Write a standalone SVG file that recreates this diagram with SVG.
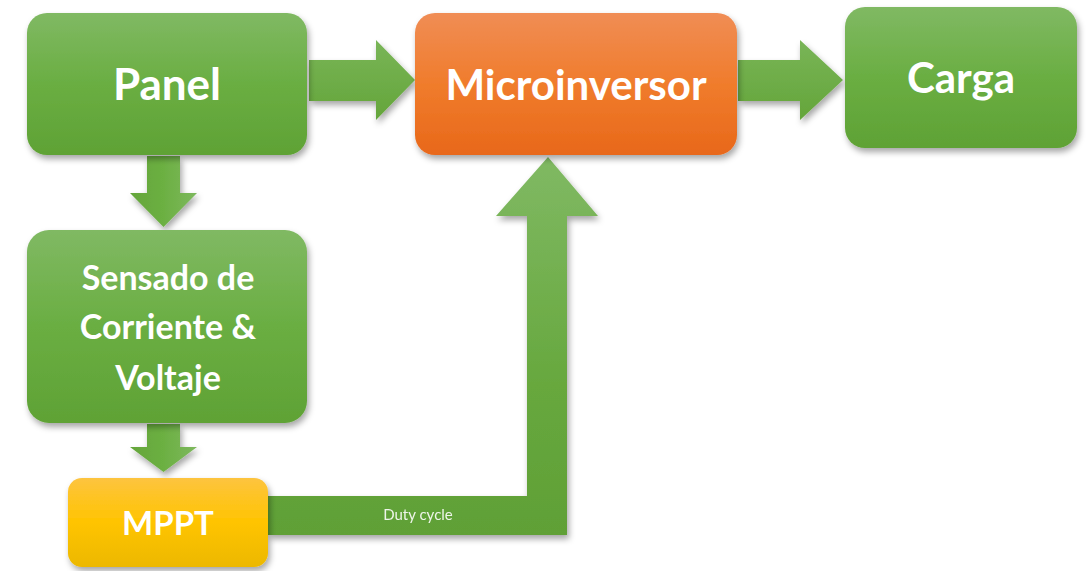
<svg xmlns="http://www.w3.org/2000/svg" width="1089" height="571" viewBox="0 0 1089 571">
<defs>
<linearGradient id="gGreen" x1="0" y1="0" x2="0" y2="1"><stop offset="0" stop-color="#80b963"/><stop offset="0.5" stop-color="#6aae42"/><stop offset="1" stop-color="#5fa235"/></linearGradient>
<linearGradient id="gOrange" x1="0" y1="0" x2="0" y2="1"><stop offset="0" stop-color="#f08d55"/><stop offset="0.5" stop-color="#f07c2c"/><stop offset="1" stop-color="#e8681a"/></linearGradient>
<linearGradient id="gYellow" x1="0" y1="0" x2="0" y2="1"><stop offset="0" stop-color="#fdc43f"/><stop offset="0.5" stop-color="#ffc400"/><stop offset="1" stop-color="#ecb800"/></linearGradient>
<linearGradient id="gArrowH" x1="0" y1="0" x2="0" y2="1"><stop offset="0" stop-color="#79b557"/><stop offset="1" stop-color="#64a53a"/></linearGradient>
<linearGradient id="gArrowV" x1="0" y1="0" x2="1" y2="0"><stop offset="0" stop-color="#64a53a"/><stop offset="0.5" stop-color="#6cb042"/><stop offset="1" stop-color="#7db85e"/></linearGradient>
<linearGradient id="gDuty" x1="0" y1="0" x2="0" y2="1"><stop offset="0" stop-color="#80b963"/><stop offset="0.6" stop-color="#67a83e"/><stop offset="1" stop-color="#60a036"/></linearGradient>
<filter id="sh" x="-10%" y="-10%" width="125%" height="130%"><feDropShadow dx="2" dy="4" stdDeviation="3" flood-color="#000" flood-opacity="0.35"/></filter>
</defs>
<style>
.lbl{font-family:Lato,"Open Sans","Liberation Sans",sans-serif;font-weight:bold;fill:#fff;text-anchor:middle}
.big{font-size:42px}
.mid{font-size:34px}
.small{font-family:Lato,"Open Sans","Liberation Sans",sans-serif;font-size:15px;fill:#eef5ea;text-anchor:middle}
</style>
<g id="connectors" filter="url(#sh)">
<polygon id="panel-micro" fill="url(#gArrowH)" points="309,60 376,60 376,40 415,80 376,120 376,101 309,101"/>
<polygon id="micro-carga" fill="url(#gArrowH)" points="738,60 800,60 800,40 843,80 800,120 800,101 738,101"/>
<polygon id="panel-sensado" fill="url(#gArrowV)" points="147,156 180,156 180,193 197,193 163.5,227 130,193 147,193"/>
<polygon id="sensado-mppt" fill="url(#gArrowV)" points="147,424 180,424 180,447 197,447 163.5,472 130,447 147,447"/>
<g id="mppt-micro">
<polygon fill="url(#gDuty)" points="268,496 527,496 527,216 496,216 548,157 598,216 567,216 567,535 268,535"/>
<text class="small" x="418" y="520">Duty cycle</text>
</g>
</g>
<g id="panel"><rect x="27" y="13" width="280" height="142" rx="20" fill="url(#gGreen)" filter="url(#sh)"/><text class="lbl big" x="167" y="100" style="font-size:44px">Panel</text></g>
<g id="microinversor"><rect x="415" y="13" width="322" height="142" rx="20" fill="url(#gOrange)" filter="url(#sh)"/><text class="lbl big" x="576" y="100">Microinversor</text></g>
<g id="carga"><rect x="845" y="7" width="232" height="141" rx="20" fill="url(#gGreen)" filter="url(#sh)"/><text class="lbl big" x="961" y="93">Carga</text></g>
<g id="sensado"><rect x="27" y="230" width="280" height="193" rx="22" fill="url(#gGreen)" filter="url(#sh)"/><text class="lbl mid" x="168" y="290">Sensado de</text><text class="lbl mid" x="168" y="339">Corriente &amp;</text><text class="lbl mid" x="168" y="390">Voltaje</text></g>
<g id="mppt"><rect x="68" y="478" width="200" height="89" rx="14" fill="url(#gYellow)" filter="url(#sh)"/><text class="lbl mid" x="168" y="535" style="font-size:33px">MPPT</text></g>
</svg>
